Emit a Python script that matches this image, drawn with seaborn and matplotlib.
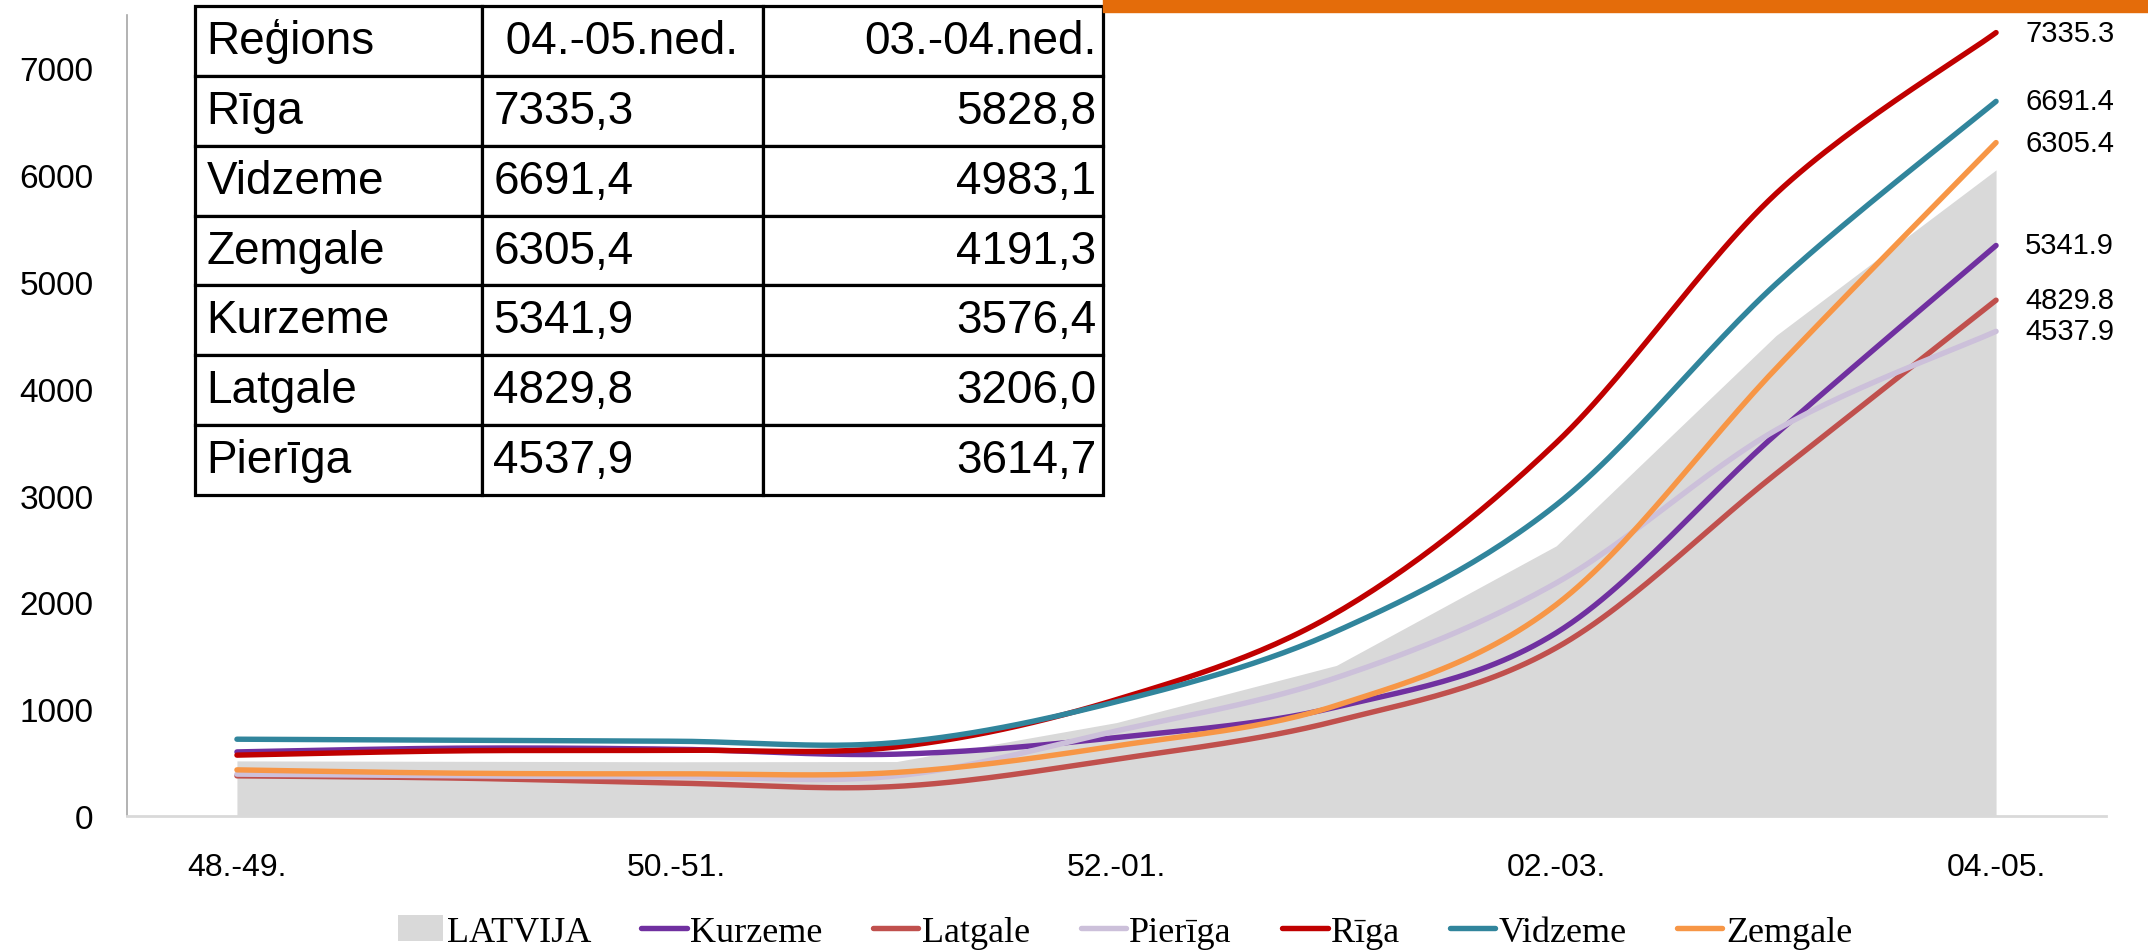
import numpy as np
import pandas as pd
import matplotlib
matplotlib.use("Agg")
import matplotlib.pyplot as plt
import seaborn as sns

categories = ['48.-49.', '49.-50.', '50.-51.', '51.-52.', '52.-01.',
              '01.-02.', '02.-03.', '03.-04.', '04.-05.']
latvija = [516, 512, 508, 510, 875, 1410, 2530, 4500, 6050]
kurzeme = [600, 635, 625, 579, 735, 1020, 1715, 3576.4, 5341.9]
latgale = [376, 355, 308, 277, 532, 890, 1575, 3206.0, 4829.8]
pieriga = [392, 376, 367, 376, 797, 1295, 2182, 3614.7, 4537.9]
riga = [570, 610, 616, 647, 1090, 1902, 3495, 5828.8, 7335.3]
vidzeme = [719, 710, 700, 688, 1070, 1730, 2913, 4983.1, 6691.4]
zemgale = [432, 401, 395, 408, 657, 1035, 1979, 4191.3, 6305.4]

series_names = ['Kurzeme', 'Latgale', 'Pierīga', 'Rīga', 'Vidzeme', 'Zemgale']
series_values = [kurzeme, latgale, pieriga, riga, vidzeme, zemgale]
colors = ['#7030A0', '#C0504D', '#CCC0DA', '#C00000', '#31859C', '#F79646']

table_order = ['Rīga', 'Vidzeme', 'Zemgale', 'Kurzeme', 'Latgale', 'Pierīga']
table_header = ['Reģions', ' 04.-05.ned.', '03.-04.ned.']

sans = ['Liberation Sans', 'DejaVu Sans']
serif = ['Liberation Serif', 'DejaVu Serif']

sns.set_theme(style="white")
plt.rcParams['font.family'] = sans
plt.rcParams['text.color'] = 'black'


def smooth(y, n=30):
    # excel-like smoothed line (catmull-rom as bezier)
    x = np.arange(len(y), dtype=float)
    y = np.asarray(y, dtype=float)
    px = np.concatenate([[x[0]], x, [x[-1]]])
    py = np.concatenate([[y[0]], y, [y[-1]]])
    xs, ys = [], []
    t = np.linspace(0, 1, n)
    for i in range(1, len(px) - 2):
        p0 = np.array([px[i], py[i]])
        p3 = np.array([px[i + 1], py[i + 1]])
        p1 = p0 + (np.array([px[i + 1], py[i + 1]]) - np.array([px[i - 1], py[i - 1]])) / 6
        p2 = p3 - (np.array([px[i + 2], py[i + 2]]) - np.array([px[i], py[i]])) / 6
        b = ((1 - t) ** 3)[:, None] * p0 + (3 * (1 - t) ** 2 * t)[:, None] * p1 \
            + (3 * (1 - t) * t ** 2)[:, None] * p2 + (t ** 3)[:, None] * p3
        xs.extend(b[:, 0])
        ys.extend(b[:, 1])
    return np.array(xs), np.array(ys)


fig = plt.figure(figsize=(21.48, 9.53), dpi=100)
ax = fig.add_axes([127 / 2148, 1 - 817 / 953, (2106 - 127) / 2148, (817 - 16) / 953])

xpos = np.arange(len(categories))
ax.fill_between(xpos, 0, latvija, color='#D9D9D9', lw=0, label='LATVIJA', zorder=1)

for name, vals, col in zip(series_names, series_values, colors):
    sx, sy = smooth(vals)
    sns.lineplot(x=sx, y=sy, ax=ax, color=col, lw=3.9, sort=False,
                 label=name, zorder=3, solid_capstyle='round')
    ax.annotate(f"{vals[-1]:.1f}", xy=(xpos[-1], vals[-1]), xytext=(21, 0),
                textcoords='offset points', va='center', ha='left',
                fontsize=21, color='black')

ax.set_xlim(-0.5, len(categories) - 0.5)
ax.set_ylim(0, 7500)
ax.set_yticks(range(0, 7001, 1000))
ax.set_xticks(xpos[::2])
ax.set_xticklabels(categories[::2])
ax.tick_params(axis='y', length=0, pad=24, labelsize=24, labelcolor='black')
ax.tick_params(axis='x', length=0, pad=26, labelsize=23, labelcolor='black')
for s in ['top', 'right']:
    ax.spines[s].set_visible(False)
ax.spines['left'].set_color('#A6A6A6')
ax.spines['left'].set_linewidth(1.2)
ax.spines['bottom'].set_color('#D9D9D9')
ax.spines['bottom'].set_linewidth(2)
ax.set_xlabel('')
ax.set_ylabel('')

# legend below
handles, labels = ax.get_legend_handles_labels()
ax.get_legend().remove()
fig.legend(handles, labels, loc='center', bbox_to_anchor=(1125 / 2148, 0.021),
           ncol=7, frameon=False, handlelength=1.25, handletextpad=0.1,
           columnspacing=1.4, prop={'family': serif, 'size': 26})

# table with the last two weeks
lookup = dict(zip(series_names, series_values))
cell_text = [table_header]
for r in table_order:
    v = lookup[r]
    cell_text.append([r, f"{v[-1]:.1f}".replace('.', ','), f"{v[-2]:.1f}".replace('.', ',')])

ax_w, ax_h = 2106 - 127, 817 - 16
tb = ax.table(cellText=cell_text, colWidths=[0.316, 0.309, 0.374], cellLoc='left',
              bbox=[(195 - 127) / ax_w, (817 - 496) / ax_h, (1103 - 195) / ax_w, (496 - 7) / ax_h],
              zorder=5)
tb.auto_set_font_size(False)
for (r, c), cell in tb.get_celld().items():
    cell.set_linewidth(2.3)
    cell.set_edgecolor('black')
    cell.PAD = 0.04
    txt = cell.get_text()
    txt.set_fontsize(33)
    txt.set_color('black')
    if c == 2:
        cell._loc = 'right'
        txt.set_horizontalalignment('right')
        cell.PAD = 0.02

# orange strip at the top
fig.patches.append(plt.Rectangle((1103 / 2148, 1 - 13 / 953), 1 - 1103 / 2148, 13 / 953,
                                 transform=fig.transFigure, color='#E46C0A', zorder=10))

fig.savefig('out.png', dpi=100)
